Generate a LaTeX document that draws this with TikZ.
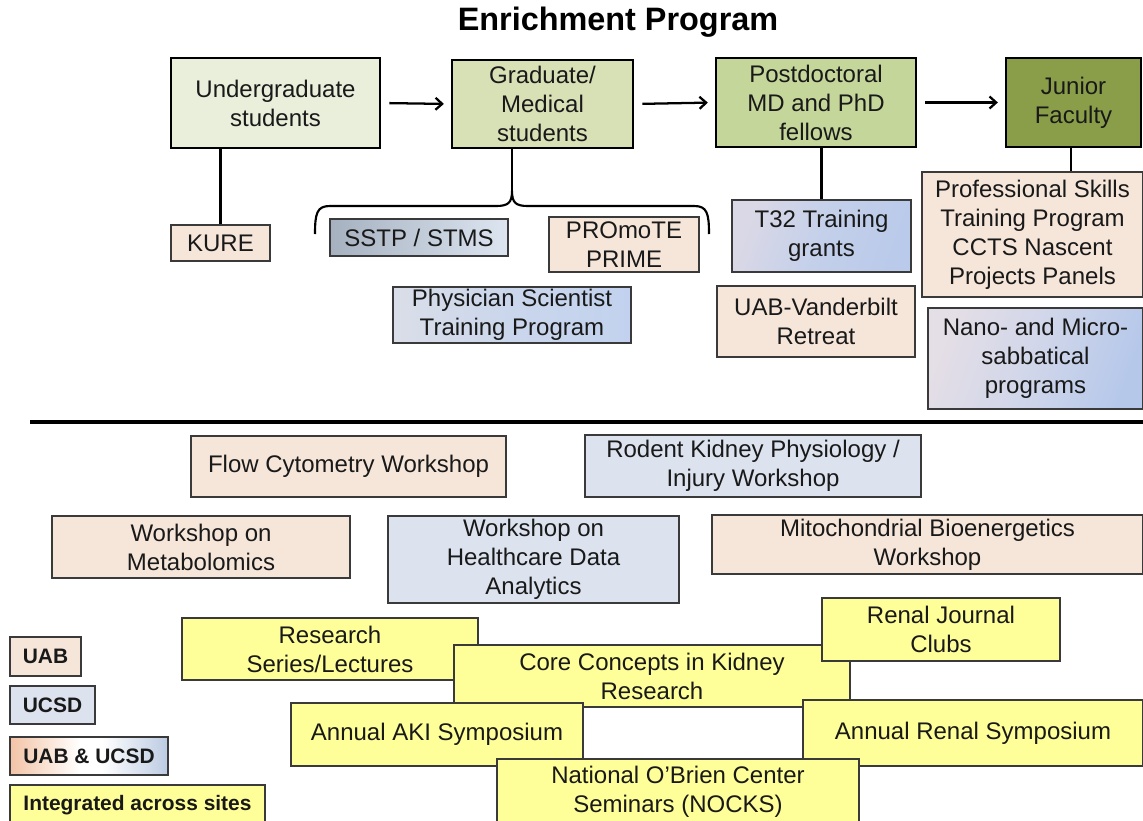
\documentclass[tikz,border=0pt]{standalone}
\usepackage{fontspec}
\setmainfont{Liberation Sans}
\usetikzlibrary{arrows.meta}
\definecolor{ug}{HTML}{EAEFDB}
\definecolor{gr}{HTML}{D8E0B6}
\definecolor{pd}{HTML}{C5D69B}
\definecolor{jf}{HTML}{8A9E4A}
\definecolor{peach}{HTML}{F6E6DA}
\definecolor{lblue}{HTML}{DCE3EF}
\definecolor{yel}{HTML}{FFFF99}
\definecolor{bord}{HTML}{3A3A3A}
\definecolor{sstpL}{RGB}{166,177,192}
\definecolor{sstpR}{RGB}{220,229,240}
\definecolor{pspL}{RGB}{218,222,232}
\definecolor{pspM}{RGB}{202,214,236}
\definecolor{pspR}{RGB}{194,210,238}
\definecolor{tL}{RGB}{218,216,230}
\definecolor{tM}{RGB}{196,208,234}
\definecolor{tR}{RGB}{186,202,234}
\definecolor{nL}{RGB}{228,222,230}
\definecolor{nM}{RGB}{208,214,234}
\definecolor{nR}{RGB}{182,200,234}
\definecolor{bothL}{RGB}{243,196,166}
\definecolor{bothR}{RGB}{188,203,226}
\pgfdeclarehorizontalshading{bothsh}{100bp}{color(0bp)=(bothL); color(25bp)=(bothL); color(47bp)=(white); color(54bp)=(white); color(75bp)=(bothR); color(100bp)=(bothR)}
\pgfdeclarehorizontalshading{pspsh}{100bp}{color(0bp)=(pspL); color(25bp)=(pspL); color(50bp)=(pspM); color(75bp)=(pspR); color(100bp)=(pspR)}
\newcommand{\bx}[7]{%
  \pgfmathsetmacro{\bw}{(#4-#2)*0.75}%
  \pgfmathsetmacro{\bh}{(#5-#3)*0.75}%
  \node[#6, minimum width=\bw pt, minimum height=\bh pt] (#1) at ({(#2+#4)/2},{(#3+#5)/2}) {#7};%
}
\tikzset{
  base/.style={inner sep=0pt, align=center, text=black!90, font=\fontsize{18}{21.75}\selectfont},
  stage/.style={base, draw=black, line width=2.2pt},
  sub/.style={base, draw=bord, line width=1.1pt},
  pch/.style={sub, fill=peach},
  blu/.style={sub, fill=lblue},
  ylw/.style={sub, fill=yel},
  leg/.style={sub, font=\fontsize{15.7}{18}\selectfont\bfseries},
  conn/.style={line width=1.6pt, black},
  arr/.style={line width=1.7pt, black, -{Straight Barb[length=5pt,width=9pt,line width=1.7pt]}, shorten <=6pt, shorten >=5pt}
}
\begin{document}
\begin{tikzpicture}[x=0.75pt,y=-0.75pt]
\useasboundingbox (0,0) rectangle (1143,821);
\fill[white] (0,0) rectangle (1143,821);
% title
\node[font=\fontsize{24.3}{28}\selectfont\bfseries] (title) at (618,22) {Enrichment Program};
% stages
\bx{ug}{171}{58}{380}{148}{stage, fill=ug}{Undergraduate\\students}
\bx{gr}{452}{60}{633}{148}{stage, fill=gr}{Graduate/\\Medical\\students}
\bx{pd}{716}{58}{916}{147}{stage, fill=pd}{Postdoctoral\\MD and PhD\\fellows}
\bx{jf}{1006}{58}{1141}{147}{stage, fill=jf}{Junior\\Faculty}
\draw[arr] (ug.east) -- (gr.west);
\draw[arr] (gr.east) -- (pd.west);
\draw[arr] (pd.east) -- (jf.west);
% sub programs
\bx{kure}{171}{225}{270}{261}{pch}{KURE}
\bx{sstp}{330}{219}{508}{256}{sub, left color=sstpL, right color=sstpR}{SSTP / STMS}
\bx{promote}{549}{217}{699}{272}{pch}{PROmoTE\\PRIME}
\bx{psp}{393}{287}{631}{343}{sub, shading=pspsh}{Physician Scientist\\Training Program}
\bx{t32}{732}{200}{911}{272}{sub, left color=tL, right color=tR, middle color=tM, shading angle=70}{T32 Training\\grants}
\bx{uabv}{717}{286}{915}{357}{pch}{UAB-Vanderbilt\\Retreat}
\bx{pst}{922}{172}{1143}{297}{pch}{Professional Skills\\Training Program\\CCTS Nascent\\Projects Panels}
\bx{nano}{928}{308}{1143}{409}{sub, left color=nL, right color=nR, middle color=nM, shading angle=70}{Nano- and Micro-\\sabbatical\\programs}
% connectors
\coordinate (bracetip) at (512,191);
\draw[conn] (ug.south -| kure.north) -- (kure.north);
\draw[conn] (gr.south -| bracetip) -- (bracetip);
\draw[conn] (pd.south -| t32.north) -- (t32.north);
\coordinate (jfdrop) at (1071,147);
\draw[conn] (jfdrop) -- (jfdrop |- pst.north);
% brace
\draw[line width=1.6pt, line join=round] (315,234) .. controls (315,213) and (317,206) .. (330,206) -- (496,206) .. controls (508,206) and (512,203) .. (bracetip) .. controls (512,203) and (516,206) .. (528,206) -- (694,206) .. controls (707,206) and (709,213) .. (709,234);
% separator
\coordinate (sepL) at (30,422);
\coordinate (sepR) at (1143,422);
\draw[line width=2.3pt] (sepL) -- (sepR);
% workshops
\bx{flow}{191}{436}{506}{497}{pch}{Flow Cytometry Workshop}
\bx{rodent}{585}{435}{921}{497}{blu}{Rodent Kidney Physiology /\\Injury Workshop}
\bx{metab}{52}{516}{350}{578}{pch}{Workshop on\\Metabolomics}
\bx{hda}{388}{516}{679}{603}{blu}{Workshop on\\Healthcare Data\\Analytics}
\bx{mito}{712}{515}{1143}{574}{pch}{Mitochondrial Bioenergetics\\Workshop}
% integrated
\bx{rsl}{182}{618}{478}{680}{ylw}{Research\\Series/Lectures}
\bx{core}{454}{645}{850}{707}{ylw}{Core Concepts in Kidney\\Research}
\bx{rjc}{822}{598}{1060}{661}{ylw}{Renal Journal\\Clubs}
\bx{aki}{291}{703}{583}{766}{ylw}{Annual AKI Symposium}
\bx{ars}{803}{700}{1143}{766}{ylw}{Annual Renal Symposium}
\bx{nocks}{497}{759}{859}{824}{ylw}{National O’Brien Center\\Seminars (NOCKS)}
% legend
\bx{luab}{10}{637}{81}{676}{leg, fill=peach}{UAB}
\bx{lucsd}{10}{686}{95}{724}{leg, fill=lblue}{UCSD}
\bx{lboth}{10}{737}{168}{775}{leg, shading=bothsh}{UAB \& UCSD}
\bx{lint}{10}{785}{265}{826}{leg, fill=yel}{Integrated across sites}
\end{tikzpicture}
\end{document}
